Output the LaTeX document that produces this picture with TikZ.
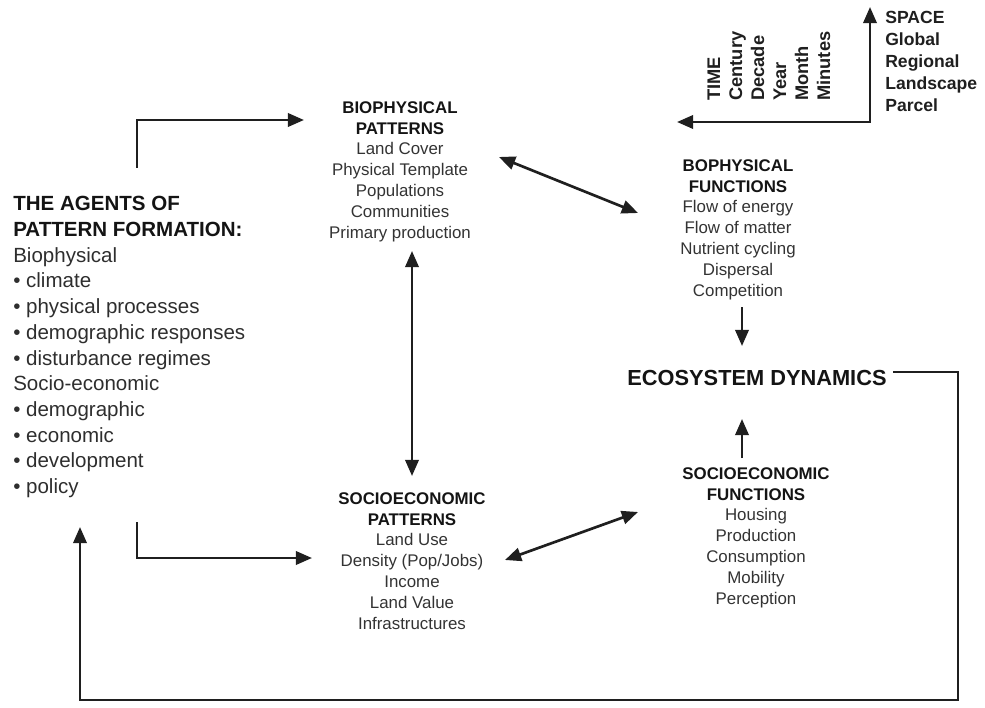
\documentclass[tikz,border=0pt]{standalone}
\usepackage{fontspec}
\setmainfont{Liberation Sans}
\usetikzlibrary{arrows.meta}
\begin{document}
\begin{tikzpicture}[x=0.025cm,y=-0.025cm,
  tip/.tip={Triangle[length=11.5pt,width=9.5pt]},
  conn/.style={line width=1.9pt, black!88, -tip},
  dconn/.style={line width=1.9pt, black!88, tip-tip},
  plain/.style={line width=1.9pt, black!88},
  block/.style={align=center, inner sep=0pt, text=black!80,
    font=\fontsize{12}{14.9}\selectfont},
  agents/.style={align=left, inner sep=0pt, text=black!82,
    font=\fontsize{14.6}{18.3}\selectfont},
  spacelab/.style={align=left, inner sep=0pt, text=black!88,
    font=\bfseries\fontsize{12.5}{15.6}\selectfont},
  timelab/.style={rotate=90, anchor=base west, inner sep=0pt, text=black!88,
    font=\bfseries\fontsize{13}{15}\selectfont}
]
\useasboundingbox (0,0) rectangle (985,708);

% ---- agents block
\node[agents, anchor=north west] (ag) at (13,196)
 {\textbf{\color{black!92}THE AGENTS OF}\\
  \textbf{\color{black!92}PATTERN FORMATION:}\\
  Biophysical\\
  • climate\\
  • physical processes\\
  • demographic responses\\
  • disturbance regimes\\
  Socio-economic\\
  • demographic\\
  • economic\\
  • development\\
  • policy};

% ---- biophysical patterns
\node[block, anchor=north] (bp) at (400,101)
 {\textbf{\color{black!92}BIOPHYSICAL}\\
  \textbf{\color{black!92}PATTERNS}\\
  Land Cover\\ Physical Template\\ Populations\\ Communities\\ Primary production};

% ---- socioeconomic patterns
\node[block, anchor=north] (sp) at (412,492)
 {\textbf{\color{black!92}SOCIOECONOMIC}\\
  \textbf{\color{black!92}PATTERNS}\\
  Land Use\\ Density (Pop/Jobs)\\ Income\\ Land Value\\ Infrastructures};

% ---- biophysical functions
\node[block, anchor=north] (bf) at (738,159)
 {\textbf{\color{black!92}BOPHYSICAL}\\
  \textbf{\color{black!92}FUNCTIONS}\\
  Flow of energy\\ Flow of matter\\ Nutrient cycling\\ Dispersal\\ Competition};

% ---- socioeconomic functions
\node[block, anchor=north] (sf) at (756,467)
 {\textbf{\color{black!92}SOCIOECONOMIC}\\
  \textbf{\color{black!92}FUNCTIONS}\\
  Housing\\ Production\\ Consumption\\ Mobility\\ Perception};

% ---- ecosystem dynamics
\node[inner sep=0pt, text=black!92, font=\bfseries\fontsize{15.5}{18}\selectfont]
  (ed) at (757,378) {ECOSYSTEM DYNAMICS};

% ---- space labels
\node[spacelab, anchor=north west] (sl) at (885,11)
 {SPACE\\ Global\\ Regional\\ Landscape\\ Parcel};

% ---- time labels
\node[timelab] (t1) at (720,101) {TIME};
\node[timelab] (t2) at (742,101) {Century};
\node[timelab] (t3) at (764,101) {Decade};
\node[timelab] (t4) at (786,101) {Year};
\node[timelab] (t5) at (808,101) {Month};
\node[timelab] (t6) at (830,101) {Minutes};

% ---- coordinates
\coordinate (axc) at (870,122);
\coordinate (axt) at (677,122);
\coordinate (axs) at (870,7);
\coordinate (a1s) at (137,168);
\coordinate (a1b) at (137,120);
\coordinate (a1e) at (304,120);
\coordinate (a2s) at (137,522);
\coordinate (a2b) at (137,558);
\coordinate (a2e) at (312,558);
\coordinate (bpe) at (499,157);
\coordinate (bfw) at (638,213);
\coordinate (spe) at (505,560);
\coordinate (sfw) at (638,512);
\coordinate (vt) at (412,251);
\coordinate (vb) at (412,476);
\coordinate (bfd) at (742,307);
\coordinate (edt) at (742,346);
\coordinate (sfu) at (742,458);
\coordinate (edb) at (742,419);
\coordinate (f1) at (893,372);
\coordinate (f2) at (958,372);
\coordinate (f3) at (958,700);
\coordinate (f4) at (80,700);
\coordinate (f5) at (80,527);

% ---- connectors
\draw[plain, tip-tip] (axt) -- (axc) -- (axs);
\draw[conn] (a1s) -- (a1b) -- (a1e);
\draw[conn] (a2s) -- (a2b) -- (a2e);
\draw[dconn] (bpe) -- (bfw);
\draw[dconn] (spe) -- (sfw);
\draw[dconn] (vt) -- (vb);
\draw[conn] (bfd) -- (edt);
\draw[conn] (sfu) -- (edb);
\draw[conn] (f1) -- (f2) -- (f3) -- (f4) -- (f5);
\end{tikzpicture}
\end{document}
